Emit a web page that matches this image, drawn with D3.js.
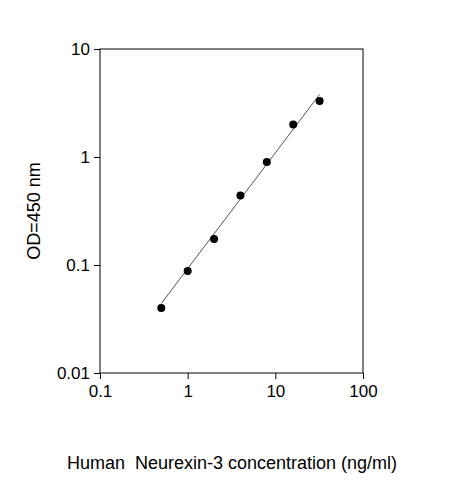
<!DOCTYPE html>
<html>
<head>
<meta charset="utf-8">
<script src="https://cdn.jsdelivr.net/npm/d3@7"></script>
<style>
  body { margin: 0; background: #fff; }
  text { font-family: "Liberation Sans", Arial, sans-serif; fill: #000; }
</style>
</head>
<body>
<svg id="chart" width="463" height="480"></svg>
<script>
const conc = [0.5, 1, 2, 4, 8, 16, 32];
const od = [0.040, 0.088, 0.174, 0.44, 0.90, 2.0, 3.3];
const fitX = [0.5, 32];
const fitY = [0.044, 3.8];
const xTicks = [0.1, 1, 10, 100];
const yTicks = [0.01, 0.1, 1, 10];

const svg = d3.select('#chart');
const plotL = 100, plotR = 363, plotT = 49, plotB = 373;

const x = d3.scaleLog().domain([0.1, 100]).range([plotL, plotR]);
const y = d3.scaleLog().domain([0.01, 10]).range([plotB, plotT]);

// frame
svg.append('rect')
  .attr('x', plotL).attr('y', plotT)
  .attr('width', plotR - plotL).attr('height', plotB - plotT)
  .attr('fill', 'none').attr('stroke', '#000').attr('stroke-width', 1);

const xAxis = svg.append('g').attr('transform', `translate(0,${plotB})`)
  .call(d3.axisBottom(x).tickValues(xTicks).tickFormat(d => String(d)).tickSize(6).tickPadding(6));
const yAxis = svg.append('g').attr('transform', `translate(${plotL},0)`)
  .call(d3.axisLeft(y).tickValues(yTicks).tickFormat(d => String(d)).tickSize(6).tickPadding(4));
[xAxis, yAxis].forEach(a => {
  a.select('.domain').remove();
  a.selectAll('text').style('font-size', '17px').style('font-family', '"Liberation Sans", Arial, sans-serif');
});

// fit line
svg.append('line')
  .attr('x1', x(fitX[0])).attr('y1', y(fitY[0]))
  .attr('x2', x(fitX[1])).attr('y2', y(fitY[1]))
  .attr('stroke', '#555').attr('stroke-width', 1);

svg.selectAll('circle')
  .data(conc.map((c, i) => ({c: c, v: od[i]})))
  .enter().append('circle')
    .attr('cx', d => x(d.c))
    .attr('cy', d => y(d.v))
    .attr('r', 4)
    .attr('fill', '#000');

svg.append('text')
  .attr('transform', 'translate(40,211) rotate(-90)')
  .attr('text-anchor', 'middle')
  .style('font-size', '18px')
  .text('OD=450 nm');

svg.append('text')
  .attr('x', 232).attr('y', 469)
  .attr('text-anchor', 'middle')
  .style('font-size', '18px')
  .style('white-space', 'pre')
  .text('Human  Neurexin-3 concentration (ng/ml)');
</script>
</body>
</html>
